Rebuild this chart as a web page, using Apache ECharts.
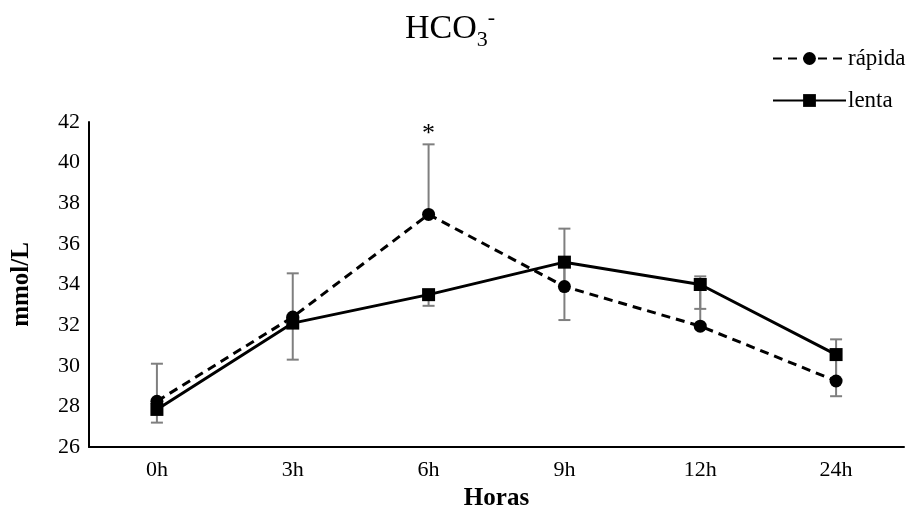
<!DOCTYPE html>
<html><head><meta charset="utf-8">
<script src="https://cdn.jsdelivr.net/npm/echarts@6/dist/echarts.min.js"></script>
<style>html,body{margin:0;padding:0;background:#fff}#c{width:910px;height:525px}</style>
</head><body><div id="c"></div>
<script>
const categories = ['0h', '3h', '6h', '9h', '12h', '24h'];
const rapida = [28.25, 32.4, 37.45, 33.9, 31.95, 29.25];
const rapidaUpper = [30.1, 34.55, 40.9, 36.75, 34.4, 31.3];
const lenta = [27.85, 32.1, 33.5, 35.1, 34.0, 30.55];
const lentaLower = [27.2, 30.3, 32.95, 32.25, 32.8, 28.5];
const significance = ['', '', '*', '', '', ''];
const yMin = 26, yMax = 42, yStep = 2;

const FONT = 'Liberation Serif';

function errItem(params, api) {
  const x = api.value(0);
  const from = api.coord([x, api.value(1)]);
  const to = api.coord([x, api.value(2)]);
  const mark = api.value(3);
  const capW = 6;
  const style = { stroke: '#7f7f7f', lineWidth: 2 };
  const children = [
    { type: 'line', shape: { x1: from[0], y1: from[1], x2: to[0], y2: to[1] }, style: style },
    { type: 'line', shape: { x1: to[0] - capW, y1: to[1], x2: to[0] + capW, y2: to[1] }, style: style }
  ];
  if (mark && mark !== '-') {
    children.push({ type: 'text', style: { text: String(mark), x: to[0], y: to[1] + 3, align: 'center', verticalAlign: 'bottom', fontFamily: FONT, fontSize: 26, fill: '#000' } });
  }
  return { type: 'group', children: children };
}

const rapidaErr = categories.map((c, i) => [i, rapida[i], rapidaUpper[i], significance[i] || '-']);
const lentaErr = categories.map((c, i) => [i, lenta[i], lentaLower[i], '-']);

const chart = echarts.init(document.getElementById('c'), null, { renderer: 'canvas' });
chart.setOption({
  animation: false,
  backgroundColor: '#fff',
  title: {
    text: '{a|HCO}{b|3}{c|-}',
    left: 405, top: 7, padding: 0,
    textStyle: {
      fontWeight: 'normal',
      rich: {
        a: { fontFamily: FONT, fontSize: 34, fontWeight: 'normal', color: '#000', lineHeight: 44, verticalAlign: 'middle' },
        b: { fontFamily: FONT, fontSize: 22, fontWeight: 'normal', color: '#000', lineHeight: 16, verticalAlign: 'bottom' },
        c: { fontFamily: FONT, fontSize: 22, fontWeight: 'normal', color: '#000', lineHeight: 26, verticalAlign: 'top' }
      }
    }
  },
  legend: {
    orient: 'vertical',
    left: 772, top: 47, padding: 0,
    itemWidth: 73, itemHeight: 16, itemGap: 19,
    textStyle: { fontFamily: FONT, fontSize: 23, color: '#000', padding: [0, 0, 0, -3] },
    data: ['rápida', 'lenta']
  },
  grid: { left: 89, right: 6, top: 122, bottom: 78, outerBoundsMode: 'none', containLabel: false },
  xAxis: {
    type: 'category',
    data: categories,
    boundaryGap: true,
    name: 'Horas', nameLocation: 'middle', nameGap: 38,
    nameTextStyle: { fontFamily: FONT, fontSize: 25, fontWeight: 'bold', color: '#000' },
    axisLine: { lineStyle: { color: '#000', width: 2 } },
    axisTick: { show: false },
    axisLabel: { fontFamily: FONT, fontSize: 22, color: '#000', margin: 12 },
    splitLine: { show: false }
  },
  yAxis: {
    type: 'value', min: yMin, max: yMax, interval: yStep,
    name: 'mmol/L', nameLocation: 'middle', nameGap: 55, nameRotate: 90,
    nameTextStyle: { fontFamily: FONT, fontSize: 25, fontWeight: 'bold', color: '#000' },
    axisLine: { show: true, lineStyle: { color: '#000', width: 2 } },
    axisTick: { show: false },
    axisLabel: { fontFamily: FONT, fontSize: 22, color: '#000', margin: 9 },
    splitLine: { show: false }
  },
  series: [
    { name: 'errR', type: 'custom', renderItem: errItem, data: rapidaErr, z: 1, encode: { x: 0, y: [1, 2] }, silent: true },
    { name: 'errL', type: 'custom', renderItem: errItem, data: lentaErr, z: 1, encode: { x: 0, y: [1, 2] }, silent: true },
    {
      name: 'rápida', type: 'line', data: rapida, z: 3,
      symbol: 'circle', symbolSize: 13,
      itemStyle: { color: '#000' },
      lineStyle: { color: '#000', width: 3, type: [9, 6] }
    },
    {
      name: 'lenta', type: 'line', data: lenta, z: 3,
      symbol: 'rect', symbolSize: 13,
      itemStyle: { color: '#000' },
      lineStyle: { color: '#000', width: 3, type: 'solid' }
    }
  ]
});
</script></body></html>
